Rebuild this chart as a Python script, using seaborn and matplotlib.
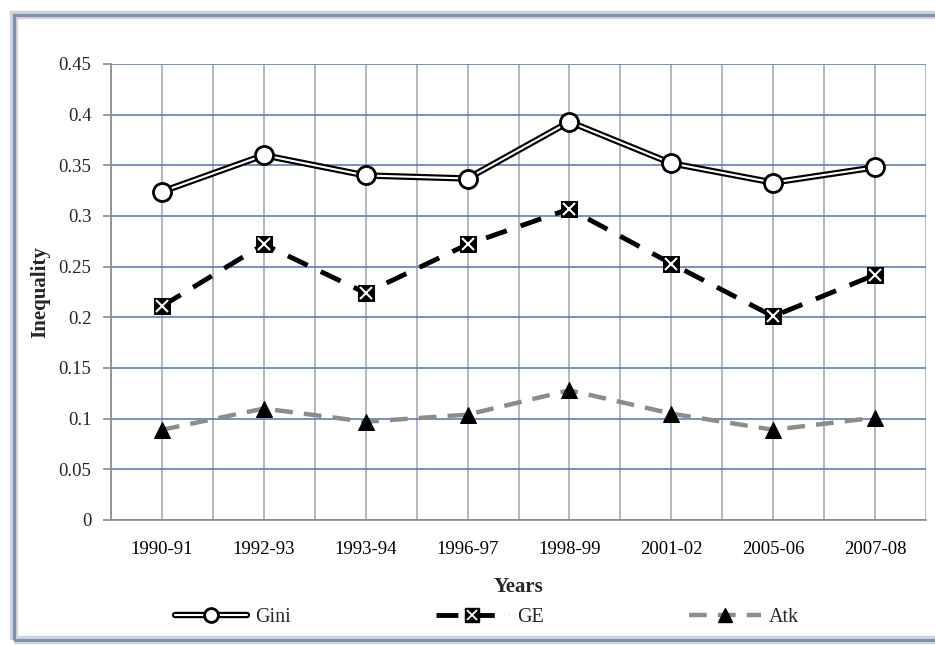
import matplotlib
matplotlib.use("Agg")
import matplotlib.pyplot as plt
from matplotlib.lines import Line2D
from matplotlib.legend_handler import HandlerTuple
from matplotlib.patches import Rectangle
import seaborn as sns
import pandas as pd
import numpy as np

years = ["1990-91", "1992-93", "1993-94", "1996-97", "1998-99", "2001-02", "2005-06", "2007-08"]
gini = [0.324, 0.360, 0.340, 0.337, 0.393, 0.352, 0.333, 0.348]
ge = [0.211, 0.272, 0.224, 0.272, 0.307, 0.253, 0.201, 0.242]
atk = [0.089, 0.110, 0.097, 0.104, 0.128, 0.105, 0.089, 0.101]
yticks = [0, 0.05, 0.1, 0.15, 0.2, 0.25, 0.3, 0.35, 0.4, 0.45]
ytick_labels = ["0", "0.05", "0.1", "0.15", "0.2", "0.25", "0.3", "0.35", "0.4", "0.45"]

df = pd.DataFrame({"Years": years, "Gini": gini, "GE": ge, "Atk": atk})

sns.set_theme(style="white")
plt.rcParams["font.family"] = ["Liberation Serif", "DejaVu Serif"]

fig = plt.figure(figsize=(9.35, 6.45), dpi=100)
fig.patch.set_facecolor("white")
ax = fig.add_axes([111 / 935, 1 - 520 / 645, 815 / 935, 456 / 645])

# outer frame of the chart
frame_xy = (14 / 935, 1 - 640 / 645)
frame_w, frame_h = 930 / 935, 625 / 645
fig.patches.append(Rectangle(frame_xy, frame_w, frame_h, transform=fig.transFigure,
                             fill=False, edgecolor="#d0d3d8", lw=6, zorder=0))
fig.patches.append(Rectangle(frame_xy, frame_w, frame_h, transform=fig.transFigure,
                             fill=False, edgecolor="#7d92b3", lw=2.2, zorder=1))

# Gini: double line (black outline, white core)
sns.lineplot(data=df, x="Years", y="Gini", ax=ax, color="black", lw=4.6, sort=False, zorder=4)
sns.lineplot(data=df, x="Years", y="Gini", ax=ax, color="white", lw=1.5, sort=False,
             marker="o", markersize=13, markerfacecolor="white", markeredgecolor="black",
             markeredgewidth=2, zorder=5)

# GE: black dashed line with crossed squares
sns.lineplot(data=df, x="Years", y="GE", ax=ax, color="black", lw=3.5, sort=False,
             linestyle=(0, (4.5, 3)), marker="s", markersize=12,
             markerfacecolor="black", markeredgecolor="black", zorder=4)
sns.lineplot(data=df, x="Years", y="GE", ax=ax, color="white", lw=0, sort=False,
             marker="x", markersize=8, markeredgewidth=1.5, zorder=6)

# Atk: grey dashed line with triangles
sns.lineplot(data=df, x="Years", y="Atk", ax=ax, color="#8c8c8c", lw=3.2, sort=False,
             linestyle=(0, (4, 2.5)), zorder=3)
sns.lineplot(data=df, x="Years", y="Atk", ax=ax, color="black", lw=0, sort=False,
             marker="^", markersize=11, markeredgecolor="black", zorder=5)

n = len(years)
ax.set_xlim(-0.5, n - 0.5)
ax.set_ylim(0, 0.45)
ax.set_xticks(np.arange(n))
ax.set_xticklabels(years, fontsize=13.5)
ax.set_xticks(np.arange(n + 1) - 0.5, minor=True)
ax.set_yticks(yticks)
ax.set_yticklabels(ytick_labels, fontsize=13.5)

ax.grid(axis="y", which="major", color="#5a7fbd", lw=1.2)
ax.grid(axis="x", which="both", color="#a3acbb", lw=1.2)
ax.set_axisbelow(True)
for s in ["top", "right"]:
    ax.spines[s].set_visible(False)
for s in ["left", "bottom"]:
    ax.spines[s].set_color("#8a8a8a")
    ax.spines[s].set_linewidth(1.2)

ax.tick_params(axis="x", which="major", length=0, pad=15, colors="black")
ax.tick_params(axis="x", which="minor", length=6, width=1.2, color="#8a8a8a", direction="out")
ax.tick_params(axis="y", which="major", length=6, width=1.2, color="#8a8a8a", direction="out",
               pad=8, left=True)

ax.set_xlabel("Years", fontsize=15, fontweight="bold", labelpad=14)
ax.set_ylabel("Inequality", fontsize=15, fontweight="bold", labelpad=6)

h_gini = (Line2D([], [], color="black", lw=4.6),
          Line2D([], [], color="white", lw=1.5, marker="o", markersize=10,
                 markerfacecolor="white", markeredgecolor="black", markeredgewidth=2))
h_ge = (Line2D([], [], color="black", lw=3.5, linestyle=(0, (4.5, 3)), marker="s", markersize=10,
               markerfacecolor="black", markeredgecolor="black"),
        Line2D([], [], color="white", lw=0, marker="x", markersize=7, markeredgewidth=1.3))
h_atk = (Line2D([], [], color="#8c8c8c", lw=3.2, linestyle=(0, (4, 2.5))),
         Line2D([], [], color="black", lw=0, marker="^", markersize=10))

fig.legend([h_gini, h_ge, h_atk], ["Gini", "GE", "Atk"],
           handler_map={tuple: HandlerTuple(ndivide=1)},
           loc="center", bbox_to_anchor=(487 / 935, 1 - 617 / 645), ncol=3, frameon=False,
           fontsize=14.5, handlelength=3.6, handletextpad=0.4, columnspacing=7.2)

fig.savefig("out.png", dpi=100, facecolor="white")
